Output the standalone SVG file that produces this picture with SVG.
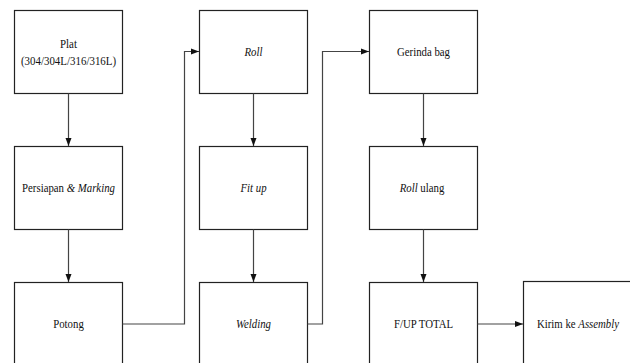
<svg xmlns="http://www.w3.org/2000/svg" width="630" height="363" viewBox="0 0 630 363">
<style>
.box{fill:#fff;stroke:#222;stroke-width:1.2}
.lbl{font-family:"Liberation Serif","Times New Roman",Times,serif;font-size:13px;fill:#111;text-anchor:middle}
.it{font-style:italic}
.con{fill:none;stroke:#444;stroke-width:1.2}
</style>
<defs>
<marker id="ah" markerUnits="userSpaceOnUse" markerWidth="8" markerHeight="8" viewBox="0 0 8 8" refX="8" refY="4" orient="auto">
<path d="M0,1 L8,4 L0,7 Z" fill="#111"/>
</marker>
</defs>
<rect width="630" height="363" fill="#fff"/>
<g id="plat"><rect class="box" x="14.5" y="10.5" width="108" height="83"/><g transform="translate(68.5,0) scale(0.84,1)"><text class="lbl" x="0" y="48.5">Plat</text><text class="lbl" x="0" y="65.5">(304/304L/316/316L)</text></g></g>
<g id="persiapan"><rect class="box" x="14.5" y="146.5" width="108" height="83"/><text class="lbl" transform="translate(68.5,192) scale(0.83,1)" x="0" y="0">Persiapan <tspan class="it">&amp; Marking</tspan></text></g>
<g id="potong"><rect class="box" x="14.5" y="282.5" width="108" height="83"/><text class="lbl" transform="translate(68.5,328) scale(0.83,1)" x="0" y="0">Potong</text></g>
<g id="roll"><rect class="box" x="199.5" y="10.5" width="108" height="83"/><text class="lbl it" transform="translate(253.5,55.5) scale(0.83,1)" x="0" y="0">Roll</text></g>
<g id="fitup"><rect class="box" x="199.5" y="146.5" width="108" height="83"/><text class="lbl it" transform="translate(253.5,192) scale(0.83,1)" x="0" y="0">Fit up</text></g>
<g id="welding"><rect class="box" x="199.5" y="282.5" width="108" height="83"/><text class="lbl it" transform="translate(253.5,328) scale(0.83,1)" x="0" y="0">Welding</text></g>
<g id="gerinda"><rect class="box" x="369.5" y="10.5" width="108" height="83"/><text class="lbl" transform="translate(423.5,55.5) scale(0.83,1)" x="0" y="0">Gerinda bag</text></g>
<g id="rollulang"><rect class="box" x="369.5" y="146.5" width="108" height="83"/><text class="lbl" transform="translate(422,192) scale(0.83,1)" x="0" y="0"><tspan class="it">Roll</tspan> ulang</text></g>
<g id="fuptotal"><rect class="box" x="369.5" y="282.5" width="108" height="83"/><text class="lbl" transform="translate(423.5,328) scale(0.83,1)" x="0" y="0">F/UP TOTAL</text></g>
<g id="kirim"><rect class="box" x="523.5" y="281.5" width="120" height="84"/><text class="lbl" transform="translate(578,328) scale(0.83,1)" x="0" y="0">Kirim ke <tspan class="it">Assembly</tspan></text></g>
<g id="connectors">
<path class="con" d="M68.5,93.5 V146" marker-end="url(#ah)"/>
<path class="con" d="M68.5,229.5 V282" marker-end="url(#ah)"/>
<path class="con" d="M253.5,93.5 V146" marker-end="url(#ah)"/>
<path class="con" d="M253.5,229.5 V282" marker-end="url(#ah)"/>
<path class="con" d="M423.5,93.5 V146" marker-end="url(#ah)"/>
<path class="con" d="M423.5,229.5 V282" marker-end="url(#ah)"/>
<path class="con" d="M122.5,324 H184.5 V51.5 H199" marker-end="url(#ah)"/>
<path class="con" d="M307.5,324 H322.5 V51.5 H369" marker-end="url(#ah)"/>
<path class="con" d="M477.5,324 H523" marker-end="url(#ah)"/>
</g>
</svg>
